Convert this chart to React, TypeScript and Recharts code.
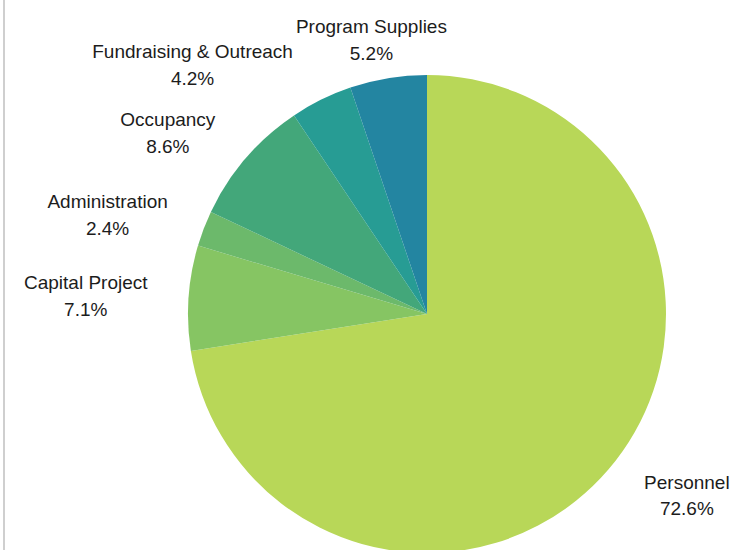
import React from 'react';
import { PieChart, Pie, Cell } from 'recharts';

const categories = ['Personnel', 'Capital Project', 'Administration', 'Occupancy', 'Fundraising & Outreach', 'Program Supplies'];
const values = [72.6, 7.1, 2.4, 8.6, 4.2, 5.2];
const valueLabels = ['72.6%', '7.1%', '2.4%', '8.6%', '4.2%', '5.2%'];
const colors = ['#b8d758', '#86c563', '#6cb96b', '#43a77a', '#279c94', '#2385a1'];

const data = categories.map((name, i) => ({ name, value: values[i] }));

const FONT_SIZE = 19;
const FONT = "'Liberation Sans', Arial, sans-serif";
const LINE = 27;
const LABEL_GAP_X = 103;
const LABEL_GAP_Y = 39;
const START_ANGLE = 90;
const END_ANGLE = -270;
const TOP_LIMIT = 11;
const H_GAP = 3;
const RAD = Math.PI / 180;

let ctx: CanvasRenderingContext2D | null = null;
function measure(text: string): number {
  try {
    if (!ctx) {
      const c = document.createElement('canvas');
      ctx = c.getContext('2d');
    }
    if (ctx) {
      ctx.font = `${FONT_SIZE}px ${FONT}`;
      return ctx.measureText(text).width;
    }
  } catch (e) {
    /* ignore */
  }
  return text.length * FONT_SIZE * 0.53;
}

type Box = { x: number; y: number; w: number; h: number };

function computeLayout(cx: number, cy: number, r: number): Box[] {
  const total = values.reduce((a, b) => a + b, 0);
  const span = END_ANGLE - START_ANGLE;
  let acc = START_ANGLE;
  const mids: number[] = values.map((v) => {
    const delta = (v / total) * span;
    const mid = acc + delta / 2;
    acc += delta;
    return mid;
  });
  const place = (i: number): Box => {
    const angle = mids[i];
    const dx = Math.cos(-angle * RAD);
    const dy = Math.sin(-angle * RAD);
    const w = Math.max(measure(categories[i]), measure(valueLabels[i]));
    const h = LINE * 2;
    const x = cx + (r + LABEL_GAP_X) * dx;
    let y = cy + (r + LABEL_GAP_Y) * dy;
    if (y - h / 2 < TOP_LIMIT) y = TOP_LIMIT + h / 2;
    return { x, y, w, h };
  };
  const overlaps = (a: Box, b: Box) =>
    Math.abs(a.x - b.x) < (a.w + b.w) / 2 + H_GAP && Math.abs(a.y - b.y) < (a.h + b.h) / 2;
  const result: Box[] = new Array(values.length);
  const placed: Box[] = [];
  for (let i = values.length - 1; i >= 0; i--) {
    let box = place(i);
    let guard = 0;
    let hit = placed.find((p) => overlaps(p, box));
    while (hit && guard < 50) {
      const dir = box.x <= hit.x ? -1 : 1;
      const needed = (box.w + hit.w) / 2 + H_GAP;
      box = { ...box, x: hit.x + dir * needed };
      hit = placed.find((p) => overlaps(p, box));
      guard++;
    }
    result[i] = box;
    placed.push(box);
  }
  return result;
}

const CX = 427;
const CY = 314;
const R = 239;

const renderLabel = (props: any) => {
  const cx = typeof props.cx === 'number' ? props.cx : CX;
  const cy = typeof props.cy === 'number' ? props.cy : CY;
  const r = typeof props.outerRadius === 'number' ? props.outerRadius : R;
  const index: number = props.index;
  const p = computeLayout(cx, cy, r)[index];
  return (
    <text x={p.x} y={p.y} textAnchor="middle" fill="#1c1c1c" fontSize={FONT_SIZE} fontFamily={FONT}>
      <tspan x={p.x} y={p.y - 6.2}>{categories[index]}</tspan>
      <tspan x={p.x} y={p.y + 20.5}>{valueLabels[index]}</tspan>
    </text>
  );
};

export default function App() {
  return (
    <div style={{ position: 'absolute', left: 0, top: 0, width: 732, height: 550, background: '#ffffff', overflow: 'hidden' }}>
      <div style={{ position: 'absolute', left: 3, top: 0, width: 1.5, height: 550, background: '#cfcfcf' }} />
      <PieChart width={732} height={550} margin={{ top: 0, right: 0, bottom: 0, left: 0 }}>
        <Pie
          data={data}
          dataKey="value"
          nameKey="name"
          cx={CX}
          cy={CY}
          outerRadius={R}
          startAngle={START_ANGLE}
          endAngle={END_ANGLE}
          stroke="none"
          labelLine={false}
          label={renderLabel}
          isAnimationActive={false}
        >
          {data.map((d, i) => (
            <Cell key={d.name} fill={colors[i]} />
          ))}
        </Pie>
      </PieChart>
    </div>
  );
}
